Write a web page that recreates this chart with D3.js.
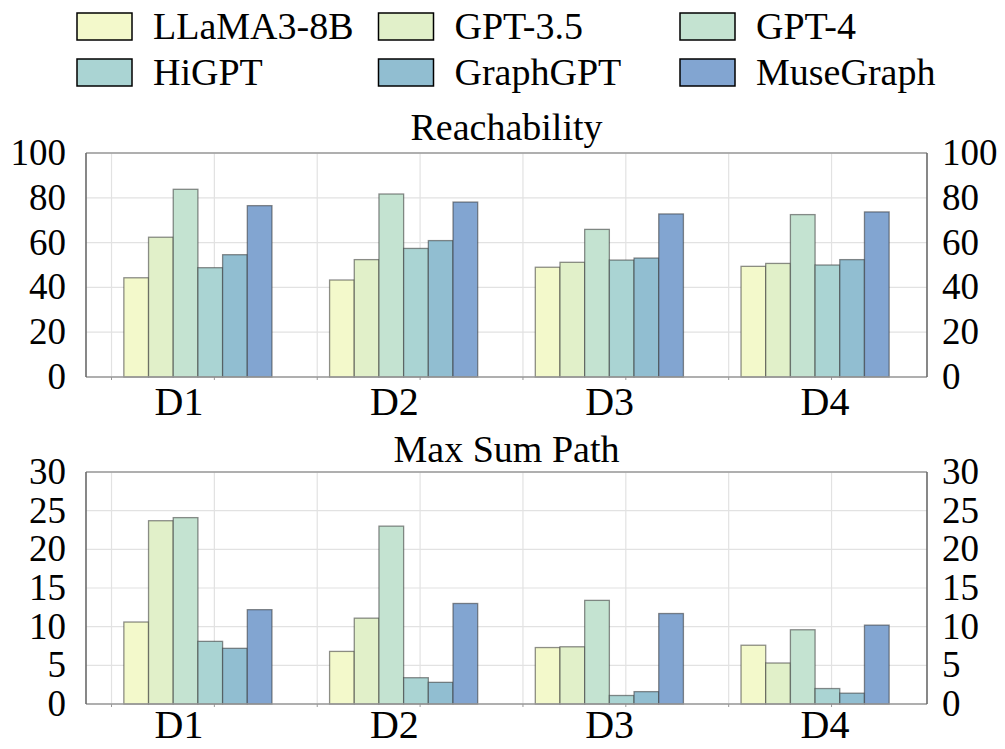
<!DOCTYPE html>
<html>
<head>
<meta charset="utf-8">
<script src="https://cdn.jsdelivr.net/npm/d3@7"></script>
</head>
<body style="margin:0">
<svg id="chart" width="1005" height="749"></svg>
<script>
// data
var categories = ["D1", "D2", "D3", "D4"];
var models = ["LLaMA3-8B", "GPT-3.5", "GPT-4", "HiGPT", "GraphGPT", "MuseGraph"];
var colors = ["#f3f9cb", "#e1f0c9", "#c4e3d1", "#aad4d3", "#91bed1", "#82a5d1"];

// rows = model, columns = D1..D4
var reachability = [
  [44.3, 43.3, 49.0, 49.4],
  [62.4, 52.4, 51.2, 50.7],
  [83.8, 81.7, 65.9, 72.5],
  [48.8, 57.4, 52.2, 50.0],
  [54.6, 60.9, 53.1, 52.4],
  [76.5, 78.1, 72.8, 73.7]
];
var maxSumPath = [
  [10.6, 6.8, 7.3, 7.6],
  [23.7, 11.1, 7.4, 5.3],
  [24.1, 23.0, 13.4, 9.6],
  [8.1, 3.4, 1.1, 2.0],
  [7.2, 2.8, 1.6, 1.4],
  [12.2, 13.0, 11.7, 10.2]
];
var reachTicks = [0, 20, 40, 60, 80, 100];
var pathTicks = [0, 5, 10, 15, 20, 25, 30];

var svg = d3.select("#chart").attr("font-family", "Liberation Serif");
var left = 86, right = 927;
var barW = 0.12;

// group index -> pixels
var x = d3.scaleLinear().domain([-0.544, 3.544]).range([left, right]);
var xLabel = d3.scalePoint().domain(categories).range([179, 825]);
var gridX = d3.range(8).map(function(j) { return -0.42 + 0.5 * j; });

// all text goes straight on the svg
function label(xp, yp, s, size, anchor) {
  svg.append("text")
    .attr("x", xp).attr("y", yp)
    .attr("font-size", size)
    .attr("text-anchor", anchor || "start")
    .style("font-family", "\"Liberation Serif\"")
    .text(s);
}

// legend
models.forEach(function(m, i) {
  var col = i % 3, row = Math.floor(i / 3);
  var gx = 77 + col * 301.5, gy = 13 + row * 46;
  svg.append("rect").attr("x", gx).attr("y", gy).attr("width", 55).attr("height", 27)
    .attr("fill", colors[i]).attr("stroke", "#000").attr("stroke-width", 1.5);
  label(gx + 76, gy + 26, m, 38);
});

function panel(top, bottom, data, ticks, title, titleY, labelY) {
  var y = d3.scaleLinear().domain([ticks[0], ticks[ticks.length - 1]]).range([bottom, top]);
  var g = svg.append("g");

  // grid
  g.selectAll(".hg").data(ticks).enter().append("line")
    .attr("x1", left).attr("x2", right)
    .attr("y1", function(d) { return y(d); }).attr("y2", function(d) { return y(d); })
    .attr("stroke", "#e2e2e2").attr("stroke-width", 1.2);
  g.selectAll(".vg").data(gridX).enter().append("line")
    .attr("x1", function(d) { return x(d); }).attr("x2", function(d) { return x(d); })
    .attr("y1", top).attr("y2", bottom)
    .attr("stroke", "#e2e2e2").attr("stroke-width", 1.2);
  // minor ticks under axis
  g.selectAll(".vt").data(gridX).enter().append("line")
    .attr("x1", function(d) { return x(d); }).attr("x2", function(d) { return x(d); })
    .attr("y1", bottom).attr("y2", bottom + 3)
    .attr("stroke", "#999").attr("stroke-width", 1);

  // bars
  models.forEach(function(m, i) {
    g.selectAll(".b" + i).data(data[i]).enter().append("rect")
      .attr("x", function(d, k) { return x(k - 3 * barW + i * barW); })
      .attr("width", x(barW) - x(0))
      .attr("y", function(d) { return y(d); })
      .attr("height", function(d) { return y(0) - y(d); })
      .attr("fill", colors[i])
      .attr("stroke", "#333").attr("stroke-opacity", 0.55).attr("stroke-width", 1.3);
  });

  // frame
  g.append("line").attr("x1", left).attr("x2", right).attr("y1", top).attr("y2", top)
    .attr("stroke", "#9a9a9a").attr("stroke-width", 1.5);
  g.append("line").attr("x1", left).attr("x2", right).attr("y1", bottom).attr("y2", bottom)
    .attr("stroke", "#9a9a9a").attr("stroke-width", 1.5);
  g.append("line").attr("x1", left).attr("x2", left).attr("y1", top).attr("y2", bottom)
    .attr("stroke", "#6a6a6a").attr("stroke-width", 1.6);
  g.append("line").attr("x1", right).attr("x2", right).attr("y1", top).attr("y2", bottom)
    .attr("stroke", "#6a6a6a").attr("stroke-width", 1.6);

  // y tick labels both sides
  ticks.forEach(function(t) {
    label(66, y(t) + 12, t, 37, "end");
    label(942, y(t) + 12, t, 37, "start");
  });

  // category labels
  categories.forEach(function(c) { label(xLabel(c), labelY, c, 40, "middle"); });

  // title
  label((left + right) / 2, titleY, title, 38, "middle");
}

panel(153, 377, reachability, reachTicks, "Reachability", 140, 415);
panel(472, 704, maxSumPath, pathTicks, "Max Sum Path", 462, 738);
</script>
</body>
</html>
